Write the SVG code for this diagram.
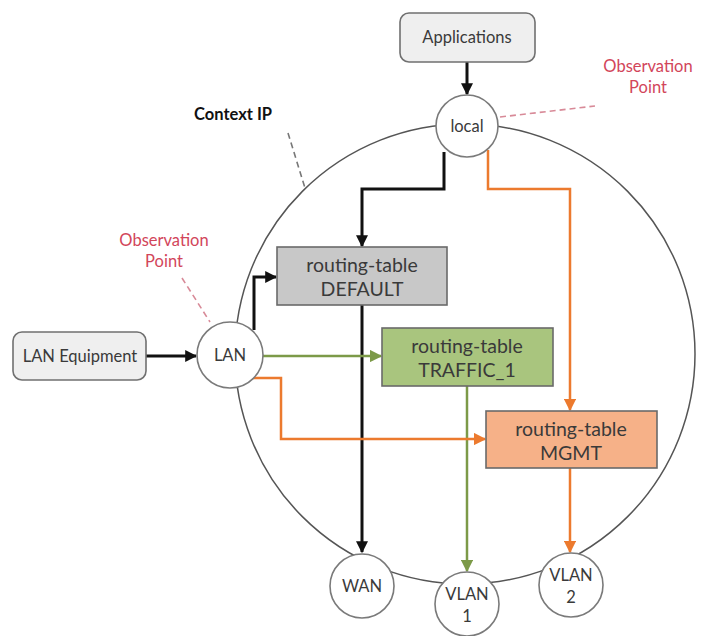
<svg xmlns="http://www.w3.org/2000/svg" width="704" height="636" viewBox="0 0 704 636">
<style>
text{font-family:Lato,"Open Sans","Liberation Sans",sans-serif;fill:#3a3a3a;text-anchor:middle}
.nd{fill:#fff;stroke:#7a7a7a;stroke-width:1.6}
.box{fill:#efefef;stroke:#707070;stroke-width:1.6}
.rt{stroke:#6a6a6a;stroke-width:1.6}
.lbl{font-size:16.5px}
.rtl{font-size:19.5px}
.obs{font-size:16.5px;fill:#d2455a}
.blk{fill:none;stroke:#111;stroke-width:3}
.grn{fill:none;stroke:#7c9a48;stroke-width:2.5}
.org{fill:none;stroke:#ec7a2e;stroke-width:2.5}
.dsh{fill:none;stroke-width:1.6;stroke-dasharray:6 4}
</style>
<defs>
<marker id="ab" viewBox="0 0 10 10" refX="9" refY="5" markerWidth="4" markerHeight="4" orient="auto"><path d="M0,0L10,5L0,10z" fill="#111"/></marker>
<marker id="ag" viewBox="0 0 10 10" refX="9" refY="5" markerWidth="5" markerHeight="5" orient="auto"><path d="M0,0L10,5L0,10z" fill="#7c9a48"/></marker>
<marker id="ao" viewBox="0 0 10 10" refX="9" refY="5" markerWidth="5" markerHeight="5" orient="auto"><path d="M0,0L10,5L0,10z" fill="#ec7a2e"/></marker>
</defs>
<rect width="704" height="636" fill="#fff"/>
<g id="context-ip">
<circle cx="465" cy="354" r="230" fill="none" stroke="#555" stroke-width="1.5"/>
<text x="233" y="120" style="font-size:16.5px;font-weight:bold;fill:#111">Context IP</text>
</g>
<g id="connectors">
<path class="dsh" stroke="#777" d="M288,133L305,188"/>
<path class="dsh" stroke="#d88a98" d="M500,117L595,106"/>
<path class="dsh" stroke="#d88a98" d="M182,278L210,322"/>
<path class="blk" marker-end="url(#ab)" d="M467,62V94"/>
<path class="blk" marker-end="url(#ab)" d="M146,356H196"/>
<path class="blk" marker-end="url(#ab)" d="M444,152V189H362V246"/>
<path class="blk" marker-end="url(#ab)" d="M254,330V277H276"/>
<path class="blk" marker-end="url(#ab)" d="M362,305V552"/>
<path class="grn" marker-end="url(#ag)" d="M263,356H381"/>
<path class="grn" marker-end="url(#ag)" d="M467,386V571"/>
<path class="org" marker-end="url(#ao)" d="M488,150V189H570V410"/>
<path class="org" marker-end="url(#ao)" d="M250,378H281V439H485"/>
<path class="org" marker-end="url(#ao)" d="M570,468V552"/>
</g>
<g id="applications">
<rect class="box" x="400" y="13" width="135" height="49" rx="9"/>
<text class="lbl" x="467" y="43">Applications</text>
</g>
<g id="lan-equipment">
<rect class="box" x="13" y="332" width="133" height="48" rx="9"/>
<text class="lbl" x="80" y="362">LAN Equipment</text>
</g>
<g id="obs-top">
<text class="obs" x="648" y="72">Observation</text>
<text class="obs" x="648" y="93">Point</text>
</g>
<g id="obs-left">
<text class="obs" x="164" y="246">Observation</text>
<text class="obs" x="164" y="267">Point</text>
</g>
<g id="local">
<circle class="nd" cx="467" cy="126" r="31"/>
<text class="lbl" x="467" y="132">local</text>
</g>
<g id="lan">
<circle class="nd" cx="230" cy="355" r="33"/>
<text class="lbl" x="230" y="361">LAN</text>
</g>
<g id="wan">
<circle class="nd" cx="362" cy="586" r="32"/>
<text class="lbl" x="362" y="592">WAN</text>
</g>
<g id="vlan1">
<circle class="nd" cx="467" cy="604" r="32"/>
<text class="lbl" x="467" y="600">VLAN</text>
<text class="lbl" x="467" y="622">1</text>
</g>
<g id="vlan2">
<circle class="nd" cx="571" cy="585" r="32"/>
<text class="lbl" x="571" y="581">VLAN</text>
<text class="lbl" x="571" y="603">2</text>
</g>
<g id="rt-default">
<rect class="rt" x="277" y="247" width="170" height="58" fill="#c8c8c8"/>
<text class="rtl" x="362" y="272">routing-table</text>
<text class="rtl" x="362" y="296">DEFAULT</text>
</g>
<g id="rt-traffic1">
<rect class="rt" x="382" y="328" width="171" height="58" fill="#a9c57e"/>
<text class="rtl" x="467" y="353">routing-table</text>
<text class="rtl" x="467" y="377">TRAFFIC_1</text>
</g>
<g id="rt-mgmt">
<rect class="rt" x="486" y="411" width="171" height="57" fill="#f6b188"/>
<text class="rtl" x="571" y="436">routing-table</text>
<text class="rtl" x="571" y="460">MGMT</text>
</g>
</svg>
